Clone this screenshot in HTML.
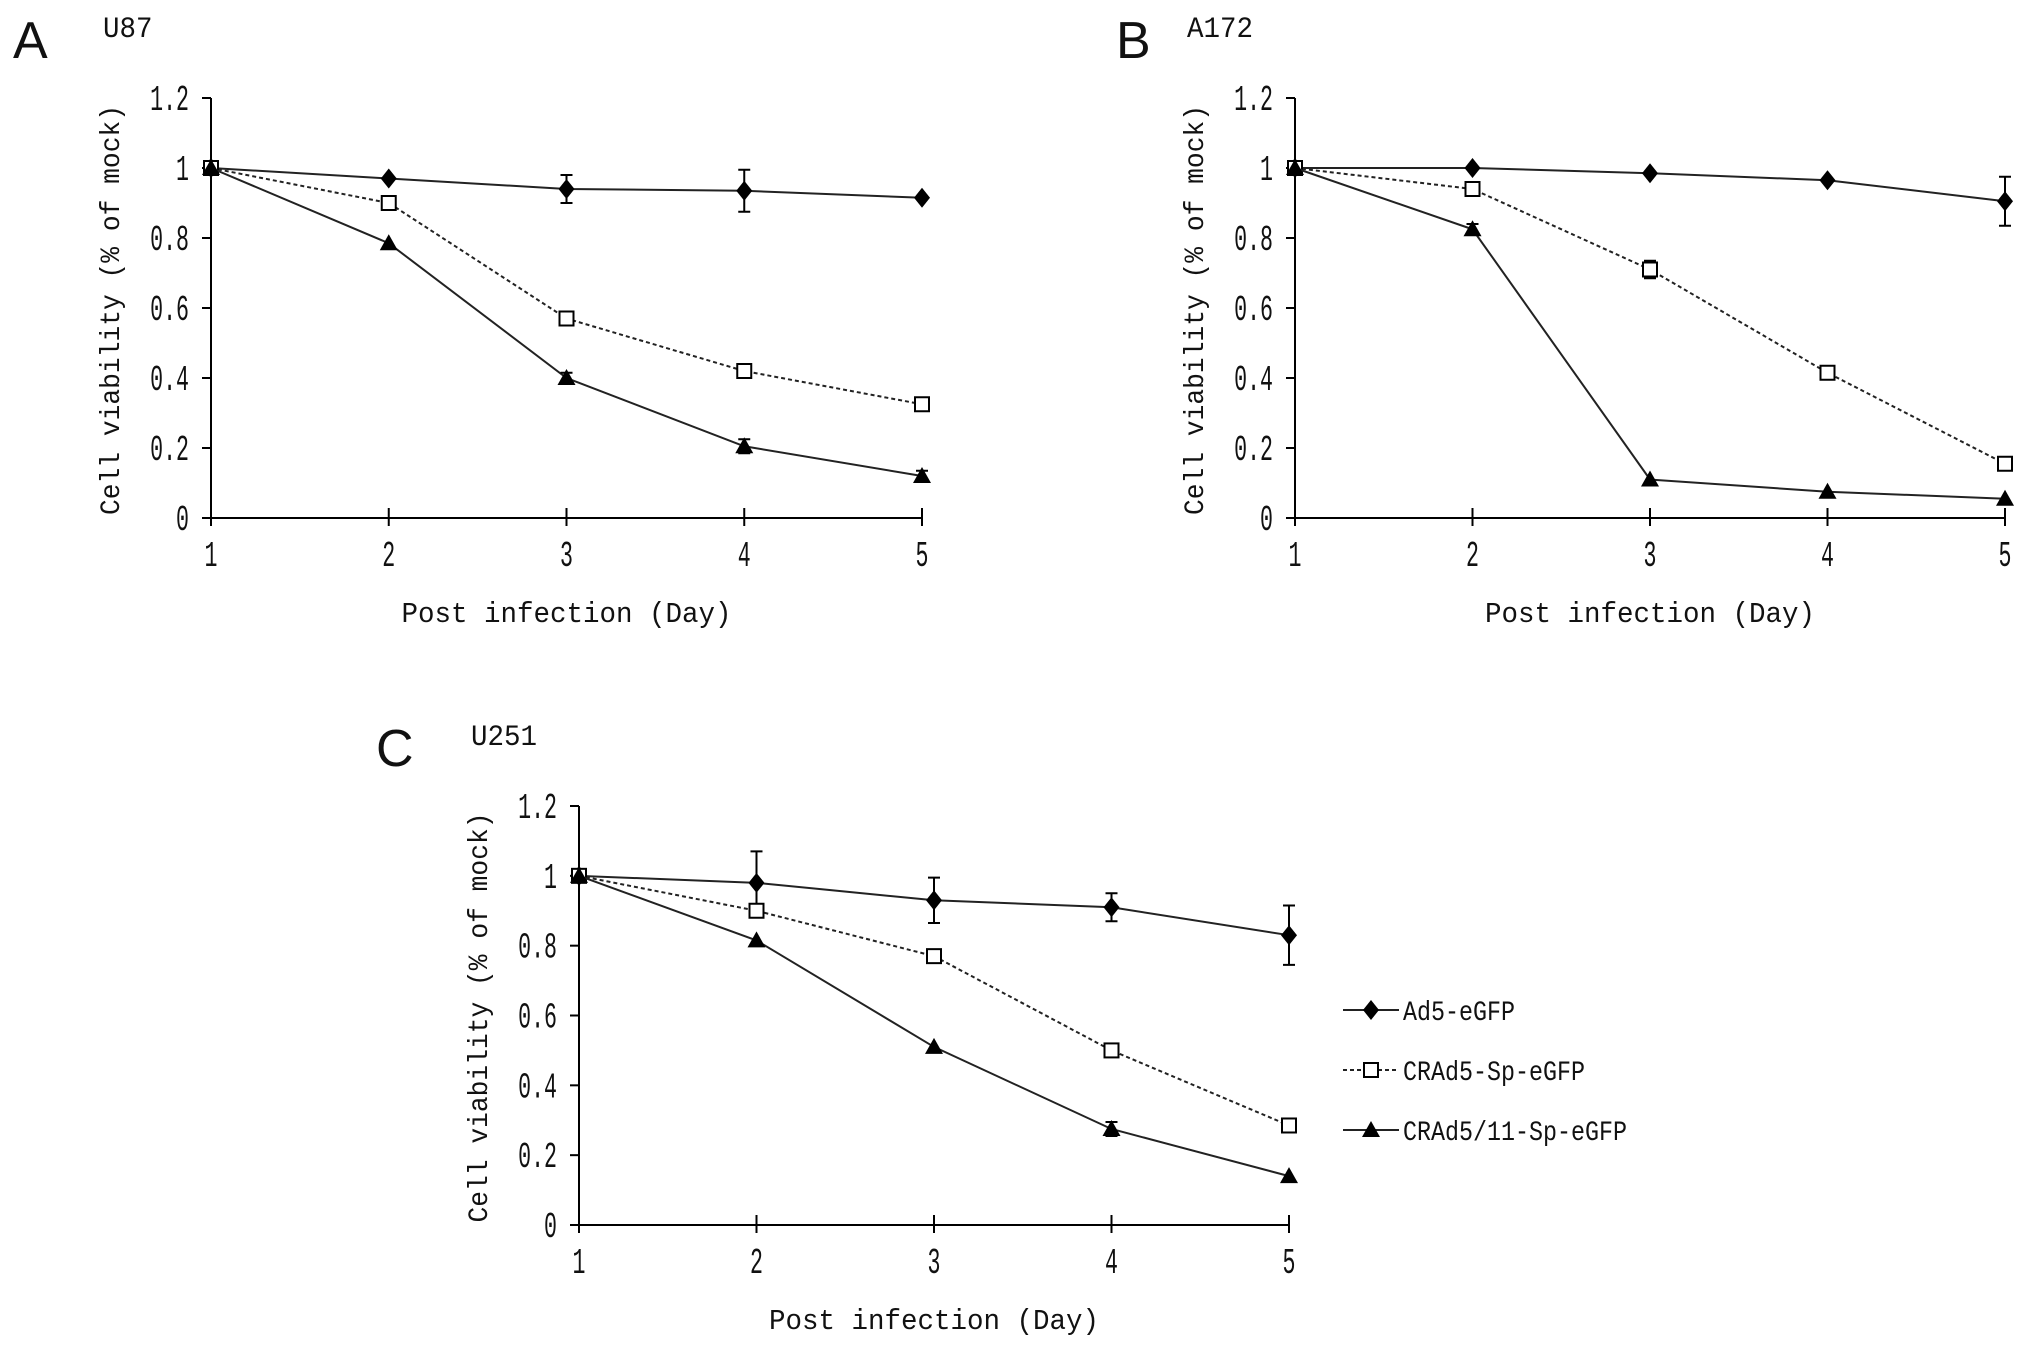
<!DOCTYPE html>
<html><head><meta charset="utf-8"><style>
html,body{margin:0;padding:0;background:#fff;}
svg{display:block;}
text{font-family:"Liberation Mono",monospace;fill:#111;}
</style></head><body>
<svg id="fig" width="2031" height="1350" xmlns="http://www.w3.org/2000/svg"></svg>
<script>
const days = [1,2,3,4,5];
const yTicks = [0,0.2,0.4,0.6,0.8,1,1.2];
const yTickLabels = ["0","0.2","0.4","0.6","0.8","1","1.2"];
const seriesNames = ["Ad5-eGFP","CRAd5-Sp-eGFP","CRAd5/11-Sp-eGFP"];
const aAd5 = [1,0.97,0.94,0.935,0.915];
const aAd5Err = [0,0.01,0.04,0.06,0.005];
const aCR5 = [1,0.90,0.57,0.42,0.325];
const aCR11 = [1,0.785,0.40,0.205,0.12];
const aCR11Err = [0,0.01,0.015,0.02,0.015];
const bAd5 = [1,1.0,0.985,0.965,0.905];
const bAd5Err = [0,0.005,0.005,0.01,0.07];
const bCR5 = [1,0.94,0.71,0.415,0.155];
const bCR5Err = [0,0.01,0.025,0.01,0.01];
const bCR11 = [1,0.825,0.11,0.075,0.055];
const bCR11Err = [0,0.015,0.01,0.01,0.01];
const cAd5 = [1,0.98,0.93,0.91,0.83];
const cAd5Err = [0,0.09,0.065,0.04,0.085];
const cCR5 = [1,0.90,0.77,0.50,0.285];
const cCR11 = [1,0.815,0.51,0.275,0.14];
const cCR11Err = [0,0.01,0.01,0.02,0.01];

const NS="http://www.w3.org/2000/svg";
const svg=document.getElementById('fig');
function mk(tag,attrs,parent){const e=document.createElementNS(NS,tag);for(const k in attrs)e.setAttribute(k,attrs[k]);(parent||svg).appendChild(e);return e;}

function marker(g,type,x,y){
  let m;
  if(type==='diamond'){m=mk('polygon',{points:`${x},${y-10} ${x+8},${y} ${x},${y+10} ${x-8},${y}`,fill:'#000'},g);}
  else if(type==='square'){m=mk('rect',{x:x-7,y:y-7,width:14,height:14,fill:'#fff',stroke:'#000','stroke-width':2},g);}
  else {m=mk('polygon',{points:`${x},${y-9} ${x+9},${y+7} ${x-9},${y+7}`,fill:'#000'},g);}
  return m;
}

function panel(id,letter,cell,ox,oy0,x5,yTop,letterOff,series){
  const g=mk('g',{});
  
  
  const sx=d=>ox+(d-1)*(x5-ox)/4;
  const sy=v=>oy0-v*(oy0-yTop)/1.2;
  const L=mk('text',{x:ox-letterOff,y:yTop-40,'font-size':52,style:'font-family:"Liberation Sans",sans-serif'},g);
  L.textContent=letter;
  
  
  const C=mk('text',{x:ox-108,y:yTop-61,'font-size':30,textLength:cell.length*16.5,lengthAdjust:'spacingAndGlyphs'},g);
  C.textContent=cell;
  
  
  const ax=mk('path',{d:`M${ox},${yTop} L${ox},${oy0} L${x5},${oy0}`,fill:'none',stroke:'#000','stroke-width':2},g);
  
  
  yTicks.forEach((v,i)=>{
    mk('line',{x1:ox-9,x2:ox,y1:sy(v),y2:sy(v),stroke:'#000','stroke-width':2},g);
    const tx=ox-22;
    const t=mk('text',{x:tx,y:sy(v)+12,'text-anchor':'end','font-size':36,transform:`translate(${tx},0) scale(0.6,1) translate(${-tx},0)`},g);
    t.textContent=yTickLabels[i];
    
    
  });
  days.forEach(d=>{
    mk('line',{x1:sx(d),x2:sx(d),y1:oy0-10,y2:oy0+8,stroke:'#000','stroke-width':2},g);
    const t=mk('text',{x:sx(d),y:oy0+48,'text-anchor':'middle','font-size':36,transform:`translate(${sx(d)},0) scale(0.6,1) translate(${-sx(d)},0)`},g);
    t.textContent=String(d);
    
    
  });
  const xt=mk('text',{x:(ox+x5)/2,y:oy0+104,'text-anchor':'middle','font-size':29,textLength:330,lengthAdjust:'spacingAndGlyphs'},g);
  xt.textContent='Post infection (Day)';
  
  
  const ymid=(yTop+oy0)/2+2, yx=ox-92;
  const yt=mk('text',{x:yx,y:ymid,'text-anchor':'middle','font-size':28,textLength:410,lengthAdjust:'spacingAndGlyphs',transform:`rotate(-90 ${yx} ${ymid})`},g);
  yt.textContent='Cell viability (% of mock)';
  
  
  series.forEach(s=>{
    const sg=mk('g',{},g);
    
    
    const pts=s.vals.map((v,i)=>`${sx(days[i])},${sy(v)}`).join(' ');
    const pl=mk('polyline',{points:pts,fill:'none',stroke:'#222','stroke-width':2,'stroke-dasharray':s.dash?'4,3':'none'},sg);
    
    
    s.vals.forEach((v,i)=>{
      const e=s.err?s.err[i]:0;
      if(e>0.012){
        const x=sx(days[i]);
        mk('path',{d:`M${x},${sy(v+e)} L${x},${sy(v-e)} M${x-6},${sy(v+e)} L${x+6},${sy(v+e)} M${x-6},${sy(v-e)} L${x+6},${sy(v-e)}`,stroke:'#000','stroke-width':2,fill:'none'},sg);
      }
      const m=marker(sg,s.m,sx(days[i]),sy(v));
      
      
    });
  });
}
panel('a','A','U87',211,518,922,98,198,[
  {name:seriesNames[0],vals:aAd5,err:aAd5Err,m:'diamond'},
  {name:seriesNames[1],vals:aCR5,m:'square',dash:true},
  {name:seriesNames[2],vals:aCR11,err:aCR11Err,m:'triangle'}]);
panel('b','B','A172',1295,518,2005,98,179,[
  {name:seriesNames[0],vals:bAd5,err:bAd5Err,m:'diamond'},
  {name:seriesNames[1],vals:bCR5,err:bCR5Err,m:'square',dash:true},
  {name:seriesNames[2],vals:bCR11,err:bCR11Err,m:'triangle'}]);
panel('c','C','U251',579,1225,1289,806,203,[
  {name:seriesNames[0],vals:cAd5,err:cAd5Err,m:'diamond'},
  {name:seriesNames[1],vals:cCR5,m:'square',dash:true},
  {name:seriesNames[2],vals:cCR11,err:cCR11Err,m:'triangle'}]);

const leg=mk('g',{});


const legM=['diamond','square','triangle'];
seriesNames.forEach((n,i)=>{
  const y=1010+i*60;
  const e=mk('g',{},leg);
  
  
  mk('line',{x1:1343,x2:1399,y1:y,y2:y,stroke:'#222','stroke-width':2,'stroke-dasharray':i===1?'4,3':'none'},e);
  marker(e,legM[i],1371,y);
  const t=mk('text',{x:1403,y:y+10,'font-size':28,textLength:n.length*14,lengthAdjust:'spacingAndGlyphs'},e);
  t.textContent=n;
});
</script>
</body></html>
